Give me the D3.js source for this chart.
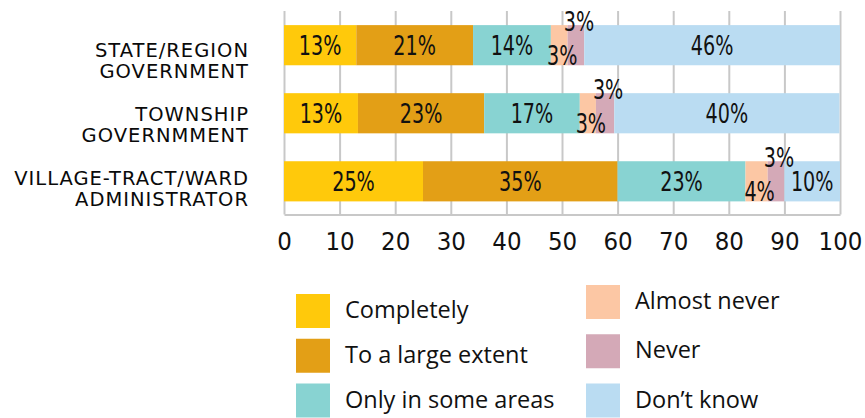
<!DOCTYPE html>
<html>
<head>
<meta charset="utf-8">
<script src="https://cdn.jsdelivr.net/npm/d3@7"></script>
<style>
  body { margin: 0; background: #fff; }
  svg { display: block; }
  .num { font-family: "DejaVu Sans Condensed", "DejaVu Sans", sans-serif; font-stretch: condensed; fill: #111; }
  .cat { font-family: "DejaVu Sans", sans-serif; fill: #0a0a0a; letter-spacing: 1px; }
  .leg { font-family: "Open Sans", "Noto Sans", sans-serif; fill: #111; }
</style>
</head>
<body>
<div id="chart"></div>
<script>
// categories (rows, top to bottom)
var categories = ["STATE/REGION GOVERNMENT", "TOWNSHIP GOVERNMMENT", "VILLAGE-TRACT/WARD ADMINISTRATOR"];
var catLines = [["STATE/REGION", "GOVERNMENT"], ["TOWNSHIP", "GOVERNMMENT"], ["VILLAGE-TRACT/WARD", "ADMINISTRATOR"]];

// series
var seriesNames = ["Completely", "To a large extent", "Only in some areas", "Almost never", "Never", "Don\u2019t know"];
var seriesColors = ["#ffc90b", "#e39f16", "#88d3d2", "#fcc7a4", "#d4a9b7", "#badcf2"];

// values per series, one per category (percent)
var completely = [13, 13.3, 25];
var largeExtent = [21, 22.7, 35];
var someAreas = [14, 17.2, 23];
var almostNever = [3, 2.9, 4];
var never = [3, 3.3, 3];
var dontKnow = [46, 40.49, 10];

var xTicks = [0, 10, 20, 30, 40, 50, 60, 70, 80, 90, 100];

(function() {
  "use strict";

  var W = 865, H = 418;
  var seriesValues = [completely, largeExtent, someAreas, almostNever, never, dontKnow];

  // rows for d3.stack
  var rows = categories.map(function(c, i) {
    var r = { cat: c };
    seriesNames.forEach(function(s, j) { r[s] = seriesValues[j][i]; });
    return r;
  });
  var stacked = d3.stack().keys(seriesNames)(rows);

  var svg = d3.select("#chart").append("svg")
    .attr("width", W).attr("height", H);

  var x = d3.scaleLinear().domain([0, 100]).range([284, 840]);
  var y = d3.scaleBand().domain(categories).range([11.5, 215])
    .paddingInner(0.41).paddingOuter(0.2);
  var gridTop = 11, axisY = 214.5;

  // grid + axis
  var xAxis = d3.axisBottom(x).tickValues(xTicks)
    .tickSizeInner(-(axisY - gridTop)).tickSizeOuter(0)
    .tickFormat(d3.format("d"));
  var ax = svg.append("g")
    .attr("transform", "translate(0," + axisY + ")")
    .call(xAxis);
  ax.select(".domain").attr("stroke", "#c8c8c8").attr("stroke-width", 2);
  ax.selectAll(".tick line").attr("stroke", "#c8c8c8").attr("stroke-width", 2);
  ax.selectAll(".tick text")
    .attr("class", "num")
    .attr("y", 35).attr("dy", 0)
    .attr("font-size", 25.5)
    .attr("fill", "#111");

  // bars
  var layer = svg.append("g").selectAll("g")
    .data(stacked).enter().append("g")
    .attr("fill", function(d, i) { return seriesColors[i]; });

  layer.selectAll("rect")
    .data(function(d) { return d; })
    .enter().append("rect")
    .attr("x", function(d) { return x(d[0]); })
    .attr("y", function(d) { return y(d.data.cat); })
    .attr("width", function(d) { return x(d[1]) - x(d[0]); })
    .attr("height", y.bandwidth());

  // value labels
  var labels = [];
  stacked.forEach(function(s) {
    s.forEach(function(d) {
      labels.push({ key: s.key, v: d[1] - d[0], x0: d[0], x1: d[1], cat: d.data.cat });
    });
  });

  function labelX(d) {
    var cx = x((d.x0 + d.x1) / 2);
    return d.v < 5 ? cx + 3 : cx;
  }
  function labelY(d) {
    var top = y(d.cat), bw = y.bandwidth();
    if (d.v < 5 && d.key === "Almost never") return top + bw;
    if (d.v < 5 && d.key === "Never") return top + 6;
    return top + bw / 2 + 9.5;
  }

  svg.append("g").selectAll("text")
    .data(labels).enter().append("text")
    .attr("class", "num")
    .attr("font-size", 26)
    .attr("text-anchor", "middle")
    .attr("transform", function(d) {
      return "translate(" + labelX(d) + "," + labelY(d) + ") scale(0.82,1)";
    })
    .text(function(d) { return Math.round(d.v) + "%"; });

  // category labels
  var yl = d3.scalePoint().domain(categories).range([57, 185]);
  var cats = svg.append("g").selectAll("text")
    .data(categories).enter().append("text")
    .attr("class", "cat")
    .attr("font-size", 19.5)
    .attr("text-anchor", "end")
    .attr("y", function(d) { return yl(d); });
  cats.selectAll("tspan")
    .data(function(d, i) { return catLines[i]; })
    .enter().append("tspan")
    .attr("x", 249)
    .attr("dy", function(d, i) { return i === 0 ? 0 : 20.5; })
    .text(function(d) { return d; });

  // legend: two columns of three
  var legCols = [
    { x: 296, range: [294, 383.5], items: [0, 1, 2] },
    { x: 586, range: [285, 383.5], items: [3, 4, 5] }
  ];
  legCols.forEach(function(col) {
    var ly = d3.scalePoint().domain(col.items).range(col.range);
    var g = svg.append("g").selectAll("g")
      .data(col.items).enter().append("g")
      .attr("transform", function(d) { return "translate(" + col.x + "," + ly(d) + ")"; });
    g.append("rect")
      .attr("width", 34).attr("height", 34)
      .attr("fill", function(d) { return seriesColors[d]; });
    g.append("text")
      .attr("class", "leg")
      .attr("x", 49).attr("y", 24)
      .attr("font-size", 23.5)
      .attr("font-weight", 500)
      .text(function(d) { return seriesNames[d]; });
  });
})();
</script>
</body>
</html>
